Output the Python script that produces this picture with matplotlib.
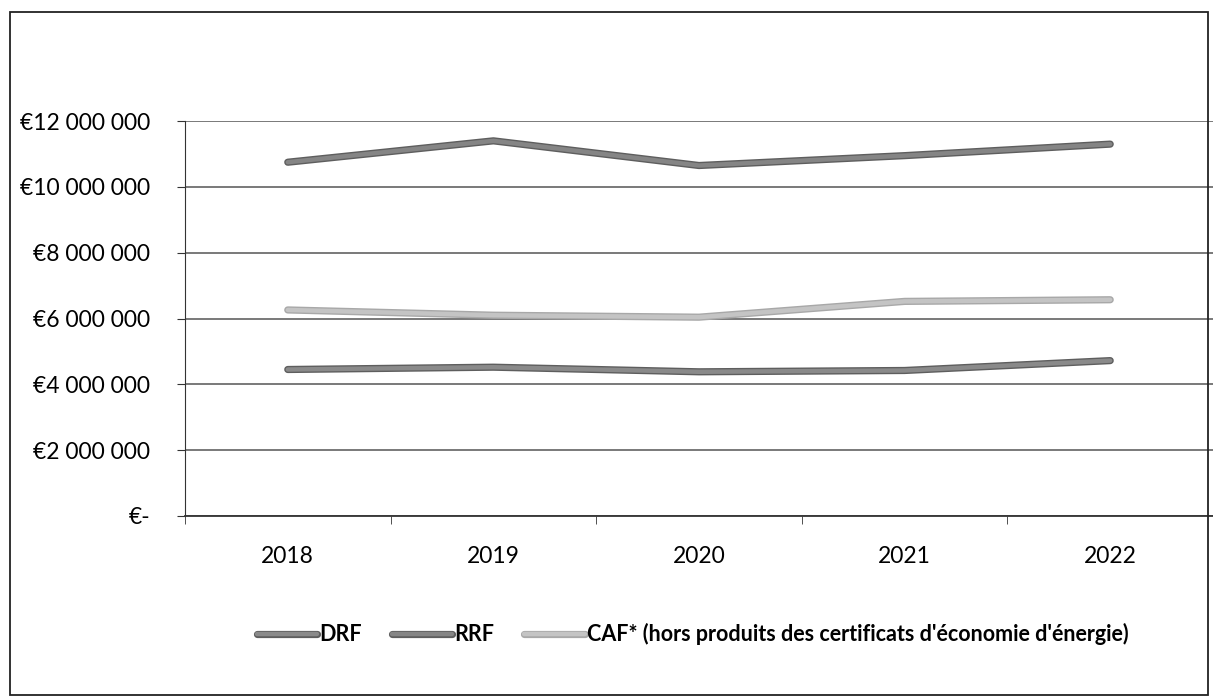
import matplotlib.pyplot as plt
import matplotlib.patheffects as pe
from matplotlib.patches import Rectangle
from matplotlib.ticker import FuncFormatter

years = ["2018", "2019", "2020", "2021", "2022"]
drf = [4.45e6, 4.52e6, 4.38e6, 4.42e6, 4.72e6]
rrf = [10.75e6, 11.40e6, 10.65e6, 10.95e6, 11.30e6]
caf = [6.26e6, 6.10e6, 6.04e6, 6.52e6, 6.57e6]
labels = ["DRF", "RRF", "CAF* (hors produits des certificats d'économie d'énergie)"]

plt.rcParams['font.family'] = ['Lato', 'DejaVu Sans']

fig = plt.figure(figsize=(12.13, 7.0), dpi=100)
ax = fig.add_axes([0.1525, 0.263, 0.8475, 0.564])

# scanned excel look: grey line with darker rim
dark_rim = [pe.Stroke(linewidth=5.2, foreground="#5e5e5e"), pe.Normal()]
light_rim = [pe.Stroke(linewidth=5.2, foreground="#a8a8a8"), pe.Normal()]

x = range(len(years))
ax.plot(x, drf, color="#8a8a8a", lw=3.2, solid_capstyle="round", label=labels[0],
        path_effects=dark_rim)
ax.plot(x, rrf, color="#858585", lw=3.2, solid_capstyle="round", label=labels[1],
        path_effects=dark_rim)
ax.plot(x, caf, color="#c4c4c4", lw=3.2, solid_capstyle="round", label=labels[2],
        path_effects=light_rim)

ax.set_xlim(-0.5, len(years) - 0.5)
ax.set_ylim(0, 12e6)
ax.set_yticks(range(0, 12000001, 2000000))


def euro(v, pos):
    if v == 0:
        return "€-"
    return "€" + f"{int(v):,}".replace(",", " ")


ax.yaxis.set_major_formatter(FuncFormatter(euro))
ax.set_xticks(list(x))
ax.set_xticklabels(years)
ax.set_xticks([i + 0.5 for i in range(-1, len(years))], minor=True)
ax.tick_params(axis="x", which="major", length=0, pad=22, labelsize=16.5)
ax.tick_params(axis="x", which="minor", length=6, direction="out", color="#333333")
ax.tick_params(axis="y", length=6, direction="out", labelsize=16.5, pad=19, color="#333333")

ax.grid(axis="y", color="#555555", lw=1.1)
ax.set_axisbelow(True)
for s in ["top", "right"]:
    ax.spines[s].set_visible(False)
ax.spines["left"].set_color("#333333")
ax.spines["bottom"].set_color("#333333")
ax.spines["bottom"].set_linewidth(1.3)

leg = fig.legend(loc="center", bbox_to_anchor=(0.571, 0.094), ncol=3, frameon=False,
                 prop={"weight": "bold", "size": 15.5}, handlelength=2.8,
                 handletextpad=0.1, columnspacing=1.4)

fig.patches.append(Rectangle((10 / 1213, 5 / 700), 1198 / 1213, 683 / 700,
                             transform=fig.transFigure, fill=False,
                             edgecolor="#222222", lw=1.3))

fig.savefig("out.png", dpi=100)
